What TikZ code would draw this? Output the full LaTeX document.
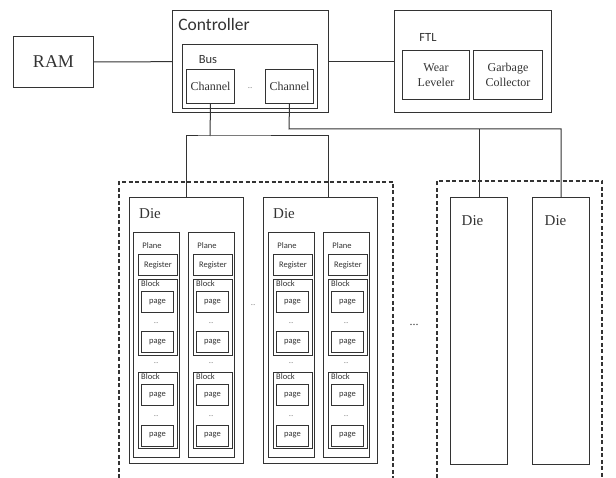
\documentclass[tikz,border=0pt]{standalone}
\usepackage{fontspec}
\setmainfont{Liberation Serif}
\setsansfont{Carlito}

\begin{document}
\begin{tikzpicture}[x=1pt, y=-1pt, line width=1pt, color=black!80,
    box/.style={draw, inner sep=0pt, anchor=north west, align=center},
    grp/.style={dash pattern=on 4pt off 2.5pt, line width=1.4pt},
    ramfont/.style={font=\fontsize{18}{20}\selectfont},
    midfont/.style={font=\fontsize{12}{15}\selectfont},
    diefont/.style={font=\fontsize{15}{16}\selectfont},
    hdfont/.style={font=\sffamily\fontsize{17.5}{19}\selectfont},
    subfont/.style={font=\sffamily\fontsize{12.5}{14}\selectfont},
    lab/.style={font=\sffamily\fontsize{8.5}{9}\selectfont},
    dotlbl/.style={font=\fontsize{6}{6}\selectfont}]
    \useasboundingbox (0,0) rectangle (616,478);

    \node[box, ramfont, minimum width=80pt, minimum height=51pt] (ram) at (13,36) {RAM};
    \node[box, minimum width=156pt, minimum height=102pt] (ctrl) at (172,10) {};
    \node[hdfont] (ctrl-lbl) at (214,24.5) {Controller};
    \node[box, minimum width=135pt, minimum height=64pt] (bus) at (182,44) {};
    \node[subfont] (bus-lbl) at (208,60) {Bus};
    \node[box, midfont, minimum width=48pt, minimum height=34pt] (ch1) at (186,69) {Channel};
    \node[box, midfont, minimum width=48pt, minimum height=34pt] (ch2) at (265,69) {Channel};
    \node[dotlbl] (ch-dots) at (250,88) {...};
    \node[box, minimum width=157pt, minimum height=102pt] (ftl) at (394,10) {};
    \node[subfont] (ftl-lbl) at (428,37) {FTL};
    \node[box, midfont, minimum width=67pt, minimum height=49pt] (wear) at (402,50) {Wear\\Leveler};
    \node[box, midfont, minimum width=69pt, minimum height=49pt] (gc) at (473,50) {Garbage\\Collector};

    \draw[grp] (119,478) |- (393,182) -- (393,478);
    \draw[grp] (437,478) |- (602,181) -- (602,478);

    \node[box, minimum width=114pt, minimum height=266pt] (die1) at (129,197) {};
    \node[box, minimum width=114pt, minimum height=266pt] (die2) at (263,197) {};
    \node[box, minimum width=57pt, minimum height=267pt] (die3) at (450,197) {};
    \node[box, minimum width=57pt, minimum height=267pt] (die4) at (532,197) {};
    \node[diefont] (die1-lbl) at (150,214) {Die};
    \node[diefont] (die2-lbl) at (284,213.5) {Die};
    \node[diefont] (die3-lbl) at (472.5,221) {Die};
    \node[diefont] (die4-lbl) at (555.5,221) {Die};

    \foreach \p/\x in {a/133, b/188, c/268, d/323} {
        \node[box, minimum width=46pt, minimum height=225pt] (plane-\p) at (\x,232) {};
        \node[lab] (plane-\p-lbl) at (\x+19,246) {Plane};
        \node[box, lab, minimum width=39pt, minimum height=21pt] (reg-\p) at (\x+5,254) {Register};
        \foreach \b/\y in {1/279, 2/372} {
            \node[box, minimum width=39pt, minimum height=76pt] (blk-\p\b) at (\x+5,\y) {};
            \node[lab] (blk-\p\b-lbl) at (\x+17.5,\y+5) {Block};
            \node[box, lab, minimum width=32pt, minimum height=21pt] (pg-\p\b-1) at (\x+8,\y+12) {page};
            \node[dotlbl] (dots-\p\b) at (\x+23,\y+44.5) {...};
            \node[box, lab, minimum width=32pt, minimum height=21pt] (pg-\p\b-2) at (\x+8,\y+52.5) {page};
        }
        \node[dotlbl] (dots-\p) at (\x+23,363) {...};
    }
    \node[dotlbl] (die-dots) at (253,305) {...};
    \node[midfont] (grp-dots) at (414,325) {...};

    \coordinate (j1) at (210,136);
    \coordinate (j2) at (289,129);
    \draw (ram) -- (ctrl);
    \draw (ctrl) -- (ftl);
    \draw (ch1.south) -- (j1);
    \draw (die1.north) |- (j1) -| ([xshift=8pt]die2.north);
    \draw (ch2.south) -- (j2) -| (die4.north);
    \draw (die3.north) -- (die3.north |- j2);
\end{tikzpicture}
\end{document}
